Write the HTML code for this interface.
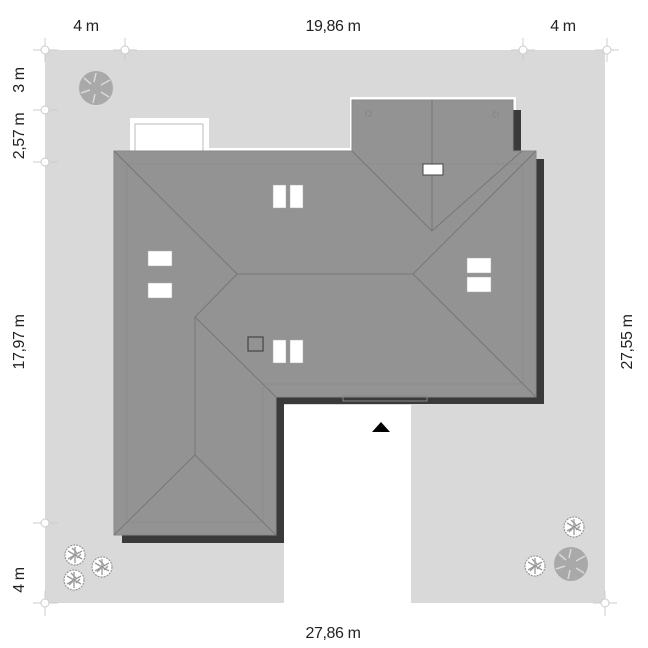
<!DOCTYPE html>
<html><head><meta charset="utf-8"><style>
html,body{margin:0;padding:0;background:#fff;width:648px;height:648px;overflow:hidden}
svg{display:block}
text{font-family:"Liberation Sans",sans-serif;font-size:16px;letter-spacing:-0.4px;fill:#222}
</style></head><body>
<svg width="648" height="648" viewBox="0 0 648 648" xmlns="http://www.w3.org/2000/svg">
<defs>
<g id="st"><circle r="10" fill="#fff" stroke="#999" stroke-width="1.2" stroke-dasharray="2 1"/>
<g stroke="#999" stroke-width="1.3"><line x1="0" y1="0" x2="0" y2="-8"/><line x1="0" y1="0" x2="7" y2="-4"/><line x1="0" y1="0" x2="7" y2="4"/><line x1="0" y1="0" x2="0" y2="8"/><line x1="0" y1="0" x2="-7" y2="4"/><line x1="0" y1="0" x2="-7" y2="-4"/><line x1="-3" y1="-7" x2="2" y2="-2"/><line x1="6" y1="-1" x2="2" y2="3"/><line x1="-5" y1="5" x2="-1" y2="1"/></g></g>
<g id="bt"><circle r="17" fill="#a9a9a9"/>
<g stroke="#d9d9d9" stroke-width="1.5"><line x1="-2" y1="-6" x2="0" y2="-15"/><line x1="5" y1="-3" x2="14" y2="-8"/><line x1="5" y1="4" x2="13" y2="9"/><line x1="-1" y1="6" x2="-3" y2="15"/><line x1="-6" y1="2" x2="-15" y2="5"/><line x1="-5" y1="-4" x2="-12" y2="-10"/></g></g>
<g id="tk"><circle r="4" fill="#fff" stroke="#ccc" stroke-width="1"/></g>
</defs>
<rect x="45" y="50" width="560" height="553" fill="#d9d9d9"/>
<rect x="284" y="405" width="127" height="198" fill="#fff"/>
<g stroke="#ccc" stroke-width="1">
<line x1="33" y1="50" x2="58" y2="50"/><line x1="45" y1="38" x2="45" y2="62"/>
<line x1="113" y1="50" x2="137" y2="50"/><line x1="125" y1="38" x2="125" y2="62"/>
<line x1="511" y1="50" x2="535" y2="50"/><line x1="523" y1="38" x2="523" y2="62"/>
<line x1="595" y1="50" x2="619" y2="50"/><line x1="607" y1="38" x2="607" y2="62"/>
<line x1="33" y1="110" x2="58" y2="110"/><line x1="33" y1="162" x2="58" y2="162"/>
<line x1="33" y1="523" x2="58" y2="523"/><line x1="33" y1="603" x2="58" y2="603"/><line x1="45" y1="591" x2="45" y2="616"/>
<line x1="593" y1="603" x2="617" y2="603"/><line x1="605" y1="591" x2="605" y2="616"/>
</g>
<use href="#tk" x="45" y="50"/><use href="#tk" x="125" y="50"/><use href="#tk" x="523" y="50"/><use href="#tk" x="607" y="50"/>
<use href="#tk" x="45" y="110"/><use href="#tk" x="45" y="162"/><use href="#tk" x="45" y="523"/><use href="#tk" x="45" y="603"/><use href="#tk" x="605" y="603"/>
<use href="#bt" x="96" y="88"/><use href="#bt" x="571" y="564"/>
<use href="#st" x="75" y="555"/><use href="#st" x="102" y="567"/><use href="#st" x="74" y="580"/>
<use href="#st" x="574" y="527"/><use href="#st" x="535" y="566"/>
<rect x="130" y="118" width="79" height="36" fill="#fff"/>
<rect x="135" y="124" width="68" height="30" fill="none" stroke="#bbb"/>
<rect x="350" y="97" width="166" height="56" fill="#fff"/>
<rect x="205" y="148" width="147" height="5" fill="#fff"/>
<rect x="513" y="110" width="8" height="45" fill="#3a3a3a"/>
<polygon points="536,159 544,159 544,404 284,404 284,543 122,543 122,535 276,535 276,397 536,397" fill="#3a3a3a"/>
<polygon points="114,151 352,151 352,100 513,100 513,151 536,151 536,397 276,397 276,535 114,535" fill="#939393" stroke="#888" stroke-width="1"/>
<polyline points="127,164 523,164 523,384 263,384 263,522 127,522 127,164" fill="none" stroke="#888" stroke-width="0.8" stroke-dasharray="2 1"/>
<g stroke="#777" stroke-width="1" fill="none">
<line x1="114" y1="151" x2="237" y2="274"/>
<line x1="237" y1="274" x2="413" y2="274"/>
<line x1="413" y1="274" x2="536" y2="151"/>
<line x1="413" y1="274" x2="536" y2="397"/>
<line x1="237" y1="274" x2="195" y2="317"/>
<line x1="195" y1="317" x2="276" y2="397"/>
<line x1="195" y1="317" x2="195" y2="455"/>
<line x1="195" y1="455" x2="114" y2="535"/>
<line x1="195" y1="455" x2="276" y2="535"/>
<line x1="352" y1="151" x2="432" y2="231"/>
<line x1="432" y1="231" x2="522" y2="151"/>
<line x1="432" y1="100" x2="432" y2="231"/>
</g>
<rect x="343" y="396" width="84" height="5" fill="none" stroke="#888" stroke-width="1"/>
<rect x="366" y="111" width="5" height="5" fill="none" stroke="#777" stroke-width="0.8" stroke-dasharray="1 1"/>
<rect x="493" y="112" width="5" height="5" fill="none" stroke="#777" stroke-width="0.8" stroke-dasharray="1 1"/>
<g fill="#fff" stroke="#aaa" stroke-width="0.5">
<rect x="273" y="185" width="13" height="23"/><rect x="290" y="185" width="13" height="23"/>
<rect x="148" y="251" width="24" height="15"/><rect x="148" y="283" width="24" height="15"/>
<rect x="467" y="258" width="24" height="15"/><rect x="467" y="277" width="24" height="15"/>
<rect x="273" y="340" width="13" height="23"/><rect x="290" y="340" width="13" height="23"/>
</g>
<rect x="423" y="164" width="20" height="11" fill="#fff" stroke="#444" stroke-width="1"/>
<rect x="248" y="337" width="15" height="14" fill="none" stroke="#444" stroke-width="1.2"/>
<polygon points="381,422 390,432 372,432" fill="#000"/>
<text x="86" y="31" text-anchor="middle">4 m</text>
<text x="333" y="31" text-anchor="middle">19,86 m</text>
<text x="563" y="31" text-anchor="middle">4 m</text>
<text x="333" y="638" text-anchor="middle">27,86 m</text>
<text transform="translate(24,80) rotate(-90)" text-anchor="middle">3 m</text>
<text transform="translate(24,136) rotate(-90)" text-anchor="middle">2,57 m</text>
<text transform="translate(24,342) rotate(-90)" text-anchor="middle">17,97 m</text>
<text transform="translate(24,580) rotate(-90)" text-anchor="middle">4 m</text>
<text transform="translate(632,342) rotate(-90)" text-anchor="middle">27,55 m</text>
</svg>
</body></html>
